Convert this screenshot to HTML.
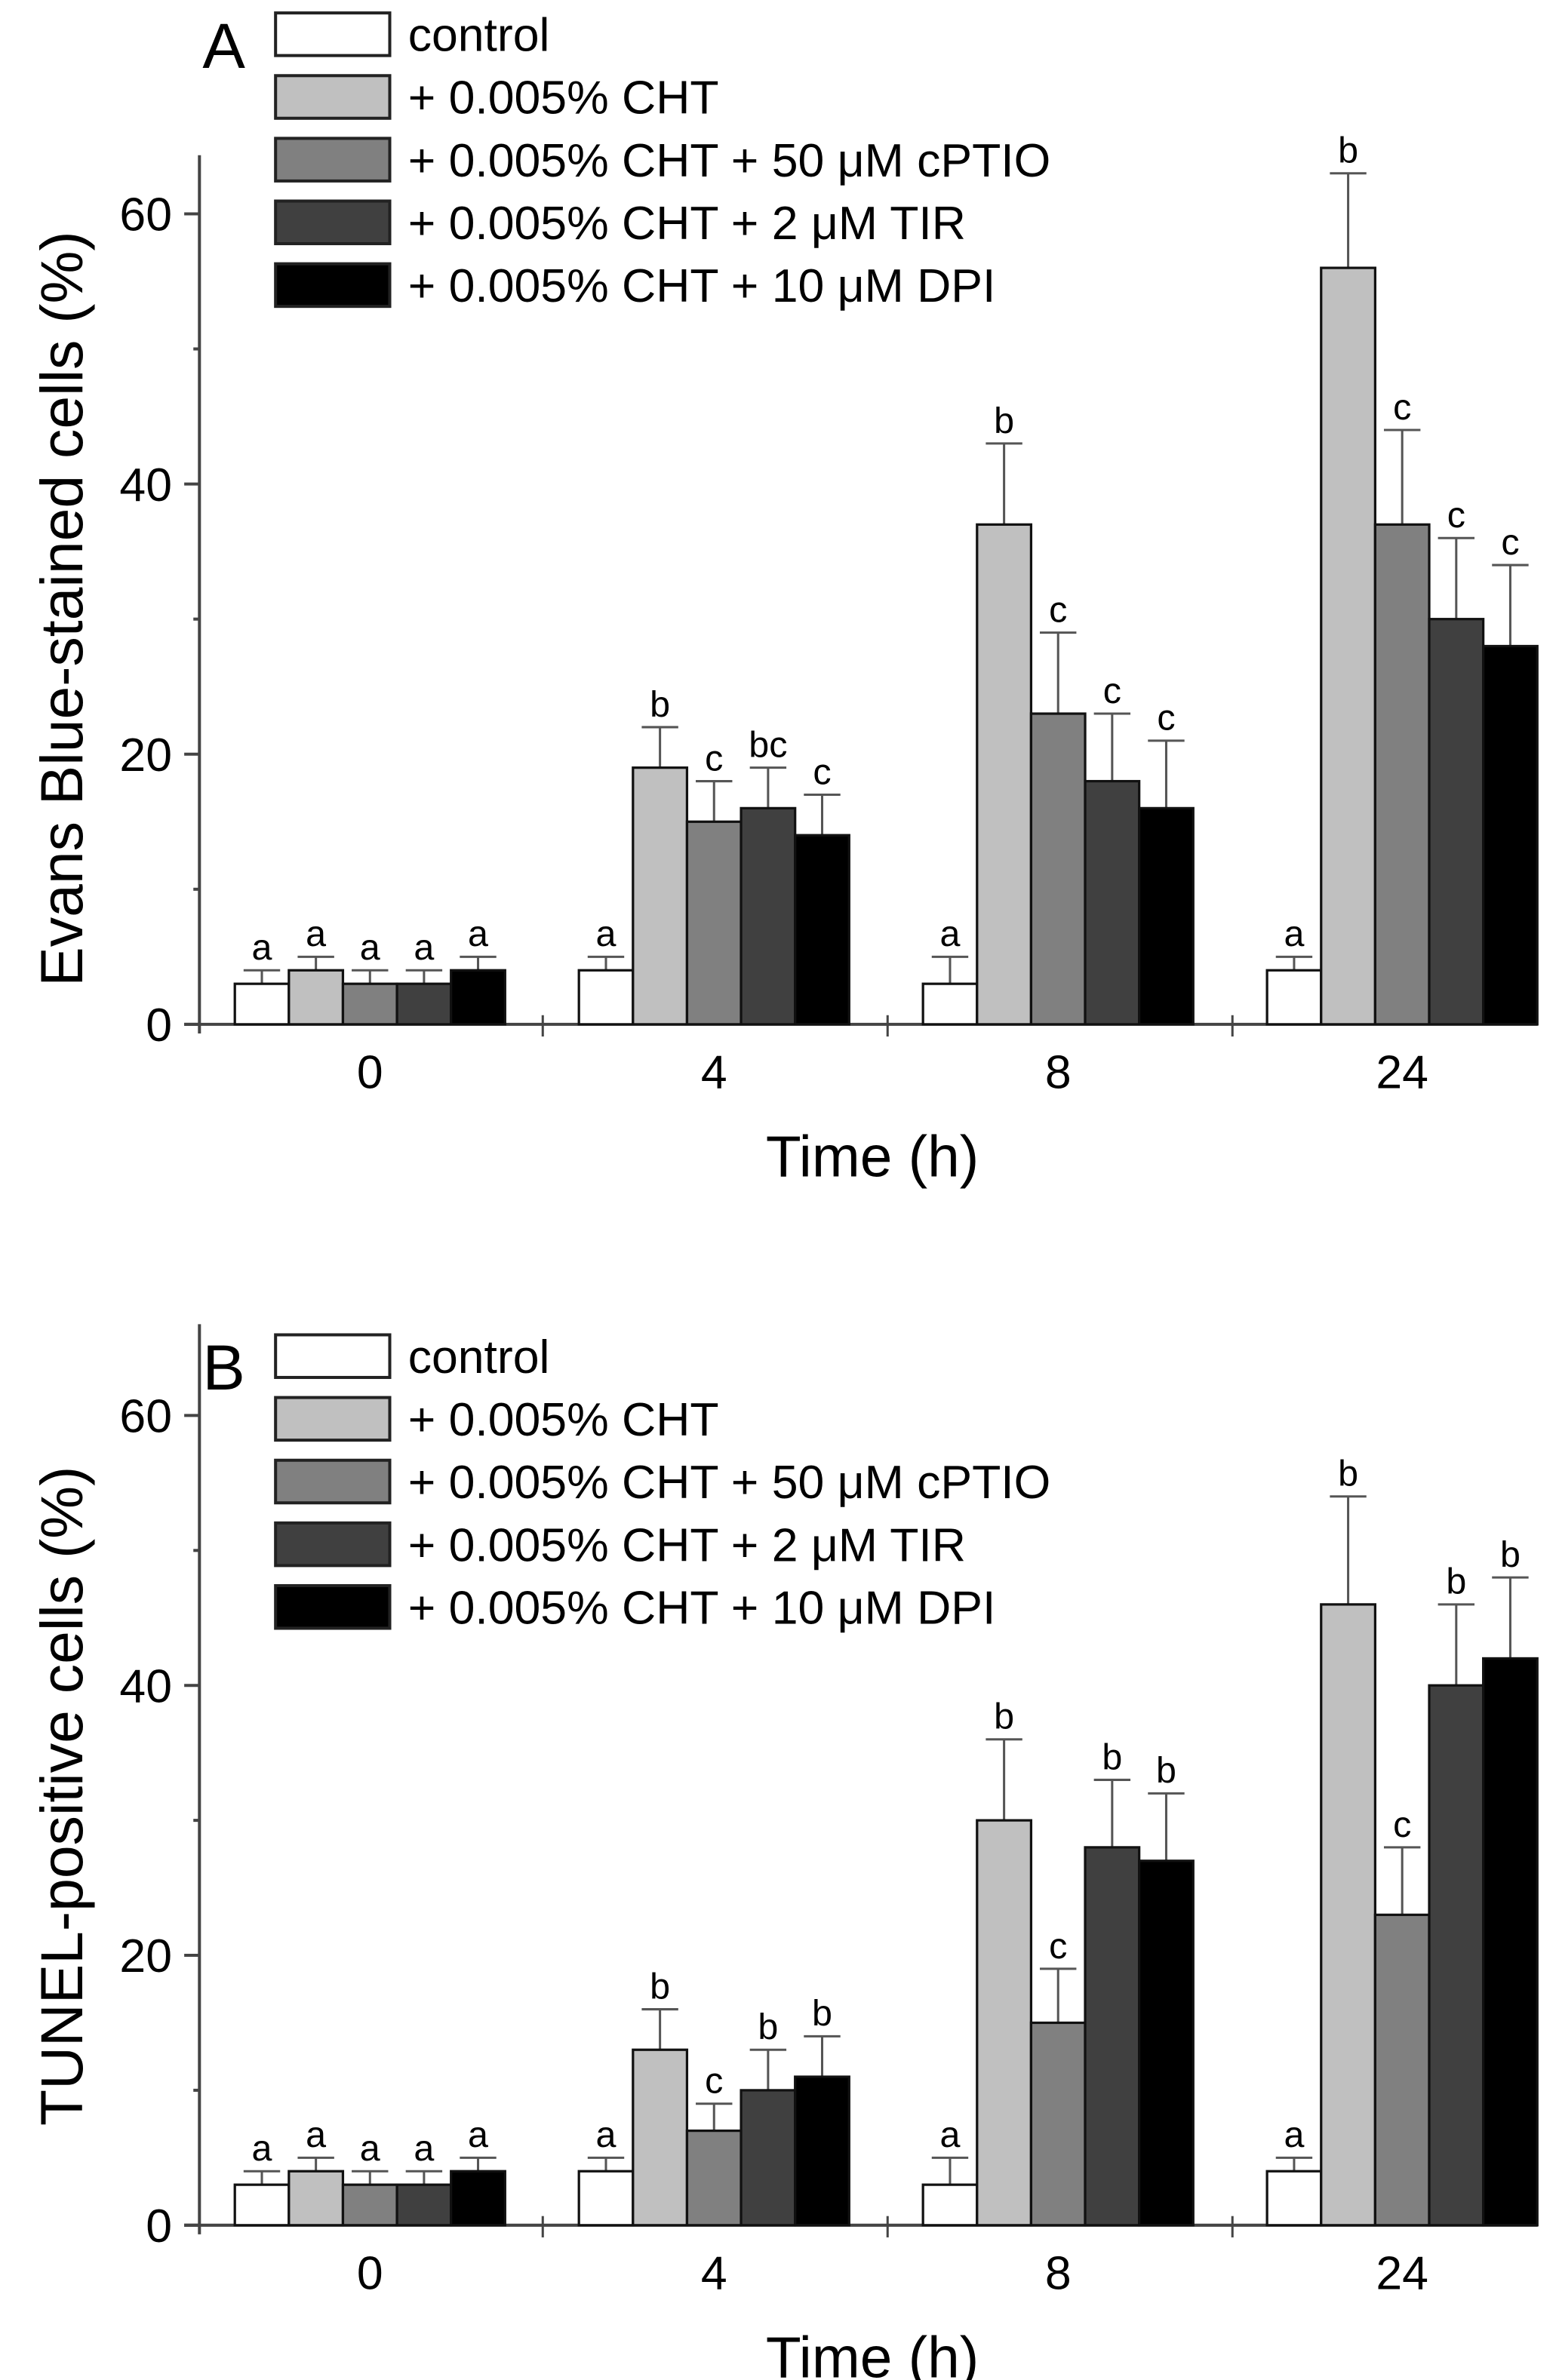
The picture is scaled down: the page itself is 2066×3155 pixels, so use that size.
<!DOCTYPE html>
<html><head><meta charset="utf-8"><style>
html,body{margin:0;padding:0;background:#fff}
svg{display:block}
text{font-family:"Liberation Sans",sans-serif;fill:#000}
</style></head><body>
<svg id="fig" width="2066" height="3155" viewBox="0 0 1024 1563.7" preserveAspectRatio="none" xmlns="http://www.w3.org/2000/svg"></svg>
<script>
const categories = ["0","4","8","24"];
const seriesNames = ["control","+ 0.005% CHT","+ 0.005% CHT + 50 \u03bcM cPTIO","+ 0.005% CHT + 2 \u03bcM TIR","+ 0.005% CHT + 10 \u03bcM DPI"];
const colors = ["#ffffff","#c0c0c0","#808080","#404040","#000000"];
const yTicks = [0,20,40,60];
// Panel A values [series][category]
const aControl = [3,4,3,4];
const aCHT = [4,19,37,56];
const aCPTIO = [3,15,23,37];
const aTIR = [3,16,18,30];
const aDPI = [4,14,16,28];
const aErrControl = [1,1,2,1];
const aErrCHT = [1,3,6,7];
const aErrCPTIO = [1,3,6,7];
const aErrTIR = [1,3,5,6];
const aErrDPI = [1,3,5,6];
const aLetters = [["a","a","a","a"],["a","b","b","b"],["a","c","c","c"],["a","bc","c","c"],["a","c","c","c"]];
// Panel B
const bControl = [3,4,3,4];
const bCHT = [4,13,30,46];
const bCPTIO = [3,7,15,23];
const bTIR = [3,10,28,40];
const bDPI = [4,11,27,42];
const bErrControl = [1,1,2,1];
const bErrCHT = [1,3,6,8];
const bErrCPTIO = [1,2,4,5];
const bErrTIR = [1,3,5,6];
const bErrDPI = [1,3,5,6];
const bLetters = [["a","a","a","a"],["a","b","b","b"],["a","c","c","c"],["a","b","b","b"],["a","b","b","b"]];

const svg = document.getElementById('fig');
const NS = "http://www.w3.org/2000/svg";
function el(tag, attrs, parent){const e=document.createElementNS(NS,tag);for(const k in attrs)e.setAttribute(k,attrs[k]);(parent||svg).appendChild(e);return e;}

function panel(cfg){
  const g = el('g',{});
  
  
  const x0=131, x1=1010, y0=cfg.zero, yTop=cfg.top;
  const sc = (y0-cfg.y60)/60;
  const Y = v => y0 - v*sc;
  const groupCenter = i => 243 + i*226;
  const bw = 35.5;
  const X = (gi, si) => groupCenter(gi) - 2.5*bw + si*bw;
  const ya = el('line',{x1:x0,y1:yTop,x2:x0,y2:y0+6,stroke:'#444','stroke-width':2},g);
  
  
  const xa = el('line',{x1:x0-10,y1:y0,x2:x1,y2:y0,stroke:'#444','stroke-width':2},g);
  
  
  yTicks.forEach(t=>{
    el('line',{x1:x0-10,y1:Y(t),x2:x0,y2:Y(t),stroke:'#444','stroke-width':2},g);
    const tx = el('text',{x:x0-18,y:Y(t)+11,'text-anchor':'end','font-size':31},g);
    tx.textContent=t;
    
    
  });
  [10,30,50].forEach(t=>el('line',{x1:x0-4,y1:Y(t),x2:x0,y2:Y(t),stroke:'#444','stroke-width':2},g));
  for(let i=1;i<=3;i++){
    const xx = 130 + i*226.5;
    el('line',{x1:xx,y1:y0-6,x2:xx,y2:y0+8,stroke:'#444','stroke-width':1.5},g);
  }
  categories.forEach((c,i)=>{
    const tx = el('text',{x:groupCenter(i),y:y0+42,'text-anchor':'middle','font-size':31},g);
    tx.textContent=c;
    
    
  });
  cfg.series.forEach((vals,si)=>{
    vals.forEach((v,gi)=>{
      const bx = X(gi,si);
      const e = cfg.errs[si][gi];
      const ex = bx+bw/2;
      el('line',{x1:ex,y1:Y(v),x2:ex,y2:Y(v+e),stroke:'#555','stroke-width':1.5},g);
      el('line',{x1:ex-12,y1:Y(v+e),x2:ex+12,y2:Y(v+e),stroke:'#555','stroke-width':1.5},g);
      const r = el('rect',{x:bx,y:Y(v),width:bw,height:v*sc,fill:colors[si],stroke:'#111','stroke-width':1.6},g);
      
      
      const lt = el('text',{x:ex,y:Y(v+e)-7,'text-anchor':'middle','font-size':24},g);
      lt.textContent = cfg.letters[si][gi];
      
      
    });
  });
  seriesNames.forEach((n,si)=>{
    const cy = cfg.legTop + si*41.2;
    const lr = el('rect',{x:181,y:cy-14,width:75,height:28,fill:colors[si],stroke:'#222','stroke-width':2},g);
    
    
    const lt = el('text',{x:268,y:cy+11,'font-size':31},g);
    lt.textContent = n;
    
    
  });
  const pl = el('text',{x:133,y:cfg.legTop+22,'font-size':42},g);
  pl.textContent = cfg.key;
  
  
  const xt = el('text',{x:573,y:y0+100,'text-anchor':'middle','font-size':38},g);
  xt.textContent='Time (h)';
  
  
  const yt = el('text',{x:0,y:0,'text-anchor':'middle','font-size':39,transform:`translate(54 ${cfg.ytc}) rotate(-90)`},g);
  yt.textContent=cfg.ytitle;
  
  
}
panel({key:'A',name:'panel-a',zero:673,y60:140.5,top:102,legTop:22.5,ytc:400,
  series:[aControl,aCHT,aCPTIO,aTIR,aDPI],errs:[aErrControl,aErrCHT,aErrCPTIO,aErrTIR,aErrDPI],letters:aLetters,
  ytitle:'Evans Blue-stained cells (%)'});
panel({key:'B',name:'panel-b',zero:1462,y60:930,top:870,legTop:891,ytc:1180,
  series:[bControl,bCHT,bCPTIO,bTIR,bDPI],errs:[bErrControl,bErrCHT,bErrCPTIO,bErrTIR,bErrDPI],letters:bLetters,
  ytitle:'TUNEL-positive cells (%)'});
</script>
</body></html>
